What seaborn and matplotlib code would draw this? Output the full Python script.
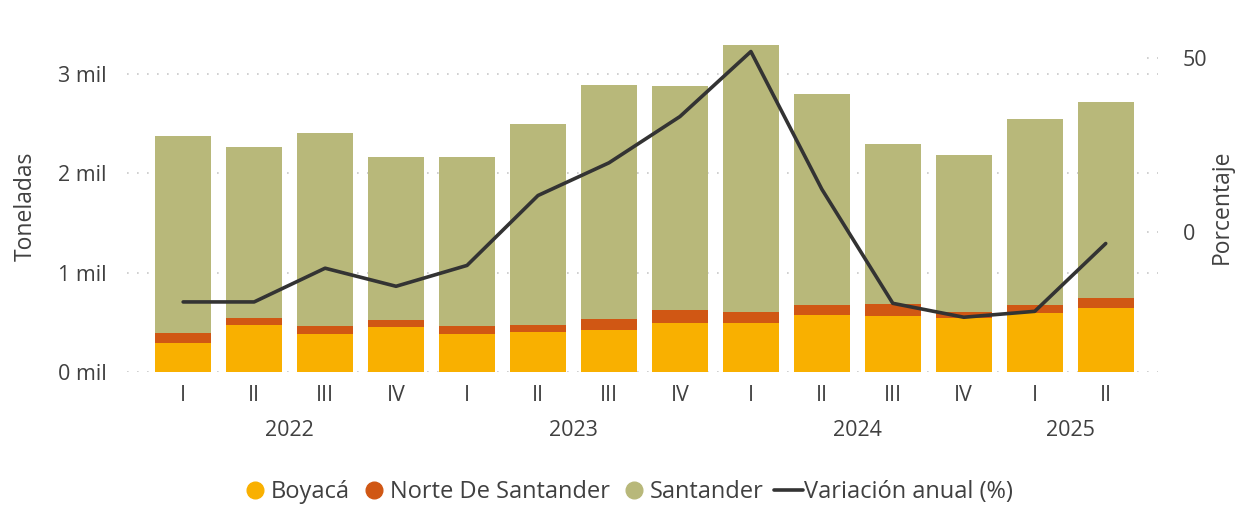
import seaborn as sns
import matplotlib.pyplot as plt
import matplotlib.transforms as mtransforms
from matplotlib.lines import Line2D
import numpy as np
import pandas as pd

# Data (toneladas por trimestre)
quarters = ['I', 'II', 'III', 'IV', 'I', 'II', 'III', 'IV',
            'I', 'II', 'III', 'IV', 'I', 'II']
years = ['2022', '2023', '2024', '2025']
year_sizes = [4, 4, 4, 2]
boyaca = [290, 470, 380, 450, 380, 400, 420, 490, 490, 580, 570, 540, 600, 650]
norte = [100, 70, 80, 70, 80, 70, 110, 140, 120, 100, 120, 70, 80, 100]
santander = [1990, 1720, 1950, 1640, 1700, 2030, 2360, 2250, 2680, 2120, 1610, 1570, 1870, 1970]
variacion = [-20.0, -20.0, -10.3, -15.5, -9.5, 10.6, 20.0, 33.3,
             52.0, 12.4, -20.4, -24.4, -22.7, -3.2]

colors = {'Boyacá': '#F9B000', 'Norte De Santander': '#D05714',
          'Santander': '#B8B87A'}
line_color = '#333333'
text_color = '#404040'

sns.set_theme(style="white")
plt.rcParams['font.family'] = ['Open Sans', 'DejaVu Sans']

df = pd.DataFrame({'pos': np.arange(len(quarters)), 'Boyacá': boyaca,
                   'Norte De Santander': norte, 'Santander': santander})

fig = plt.figure(figsize=(12.46, 5.05), dpi=100)
ax = fig.add_axes([0.102, 0.263, 0.827, 0.657])

# Stacked bars
bottom = np.zeros(len(df))
for name in ['Boyacá', 'Norte De Santander', 'Santander']:
    ax.bar(df['pos'], df[name], bottom=bottom, width=0.79,
           color=colors[name], linewidth=0, zorder=2)
    bottom += df[name].values

ax.set_xlim(-0.79, 13.73)
ax.set_ylim(0, 3337)
ax.set_yticks([0, 1000, 2000, 3000])
ax.set_yticklabels(['0 mil', '1 mil', '2 mil', '3 mil'])
ax.yaxis.grid(True, linestyle=(0, (1, 5)), color='#C8C8C8', linewidth=1.2)
ax.set_axisbelow(True)
ax.set_xticks(df['pos'])
ax.set_xticklabels(quarters)
ax.tick_params(axis='both', length=0, labelsize=15.5, labelcolor=text_color)
ax.tick_params(axis='x', pad=9)
ax.tick_params(axis='y', pad=15)
ax.set_ylabel('Toneladas', fontsize=16.5, color=text_color, labelpad=14)
for s in ax.spines.values():
    s.set_visible(False)

# Year labels under quarter labels
trans = mtransforms.blended_transform_factory(ax.transData, ax.transAxes)
start = 0
for yr, n in zip(years, year_sizes):
    ax.text(start + (n - 1) / 2, -0.175, yr, transform=trans, ha='center',
            va='center', fontsize=15.5, color=text_color)
    start += n

# Line on secondary axis
ax2 = ax.twinx()
sns.lineplot(x=df['pos'], y=variacion, ax=ax2, color=line_color,
             linewidth=2.6, zorder=3)
ax2.set_ylim(-40.2, 55.2)
ax2.set_yticks([0, 50])
ax2.tick_params(axis='y', length=0, labelsize=15.5, labelcolor=text_color, pad=18)
ax2.set_ylabel('Porcentaje', fontsize=16.5, color=text_color, labelpad=2)
trans2 = mtransforms.blended_transform_factory(ax2.transAxes, ax2.transData)
ax2.hlines([0, 50], 0.99, 1.0, transform=trans2, colors='#C8C8C8',
           linestyles=(0, (1, 5)), linewidth=1.2)
for s in ax2.spines.values():
    s.set_visible(False)

# Legend
handles = [Line2D([], [], marker='o', linestyle='', markersize=12,
                  markerfacecolor=colors[k], markeredgecolor=colors[k])
           for k in ['Boyacá', 'Norte De Santander', 'Santander']]
handles.append(Line2D([], [], color=line_color, linewidth=2.6))
labels = ['Boyacá', 'Norte De Santander', 'Santander', 'Variación anual (%)']
leg = fig.legend(handles, labels, loc='lower center', ncol=4, frameon=False,
                 fontsize=17, bbox_to_anchor=(0.503, -0.04), handletextpad=0.05,
                 columnspacing=0.45, handlelength=1.2)
for t in leg.get_texts():
    t.set_color(text_color)

fig.savefig('out.png', dpi=100)
